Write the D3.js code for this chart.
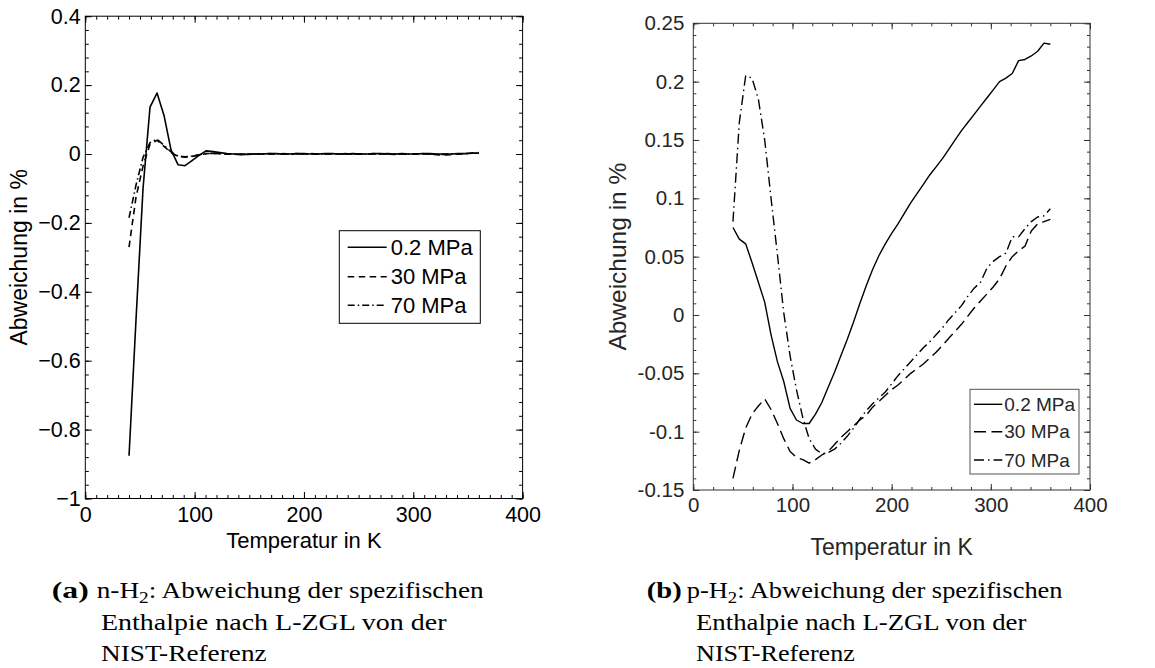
<!DOCTYPE html>
<html>
<head>
<meta charset="utf-8">
<script src="https://cdn.jsdelivr.net/npm/d3@7"></script>
<style>
  html, body { margin: 0; padding: 0; background: #fff; }
  svg { display: block; }
</style>
</head>
<body>
<svg id="fig" width="1155" height="668"></svg>
<script>
// Temperature grid of the comparison, in K
const temperatures = [
  40, 46.4, 52.8, 59.2, 65.6, 72, 78.4, 84.8, 91.2, 97.6,
  104, 110.4, 116.8, 123.2, 129.6, 136, 142.4, 148.8, 155.2, 161.6,
  168, 174.4, 180.8, 187.2, 193.6, 200, 206.4, 212.8, 219.2, 225.6,
  232, 238.4, 244.8, 251.2, 257.6, 264, 270.4, 276.8, 283.2, 289.6,
  296, 302.4, 308.8, 315.2, 321.6, 328, 334.4, 340.8, 347.2, 353.6, 360
];

const seriesNames = ["0.2 MPa", "30 MPa", "70 MPa"];

// n-H2: deviation of the specific enthalpy (L-ZGL vs. NIST), in %
const nH2_p02 = [
  -0.876, -0.480, -0.100, 0.136, 0.177, 0.112, 0.012, -0.031, -0.034, -0.019,
  -0.004, 0.009, 0.007, 0.004, 0.001, 0.000, -0.001, -0.001, 0.000, 0.000,
  0.001, 0.001, 0.000, 0.000, 0.001, 0.001, 0.000, 0.000, 0.001, 0.001,
  0.000, 0.000, 0.001, 0.000, 0.000, 0.001, 0.001, 0.000, 0.000, 0.001,
  0.000, 0.000, 0.001, 0.001, 0.000, 0.000, 0.000, 0.001, 0.001, 0.002, 0.002
];
const nH2_p30 = [
  -0.270, -0.125, -0.035, 0.028, 0.040, 0.022, 0.004, -0.007, -0.009, -0.007,
  -0.003, 0.001, 0.002, 0.001, 0.000, -0.001, -0.001, 0.000, 0.000, 0.000,
  0.001, 0.000, 0.000, 0.000, 0.001, 0.000, 0.000, 0.000, 0.000, 0.001,
  0.000, 0.000, 0.000, 0.000, 0.000, 0.001, 0.000, 0.000, -0.001, 0.000,
  0.000, 0.000, 0.000, -0.001, -0.002, -0.003, -0.002, 0.000, 0.001, 0.003, 0.004
];
const nH2_p70 = [
  -0.185, -0.090, -0.010, 0.033, 0.043, 0.025, 0.006, -0.006, -0.008, -0.006,
  -0.002, 0.001, 0.002, 0.001, 0.000, 0.000, -0.001, 0.000, 0.000, 0.001,
  0.000, 0.000, 0.001, 0.000, 0.000, 0.000, 0.001, 0.000, 0.000, 0.000,
  0.000, 0.001, 0.000, 0.000, 0.000, 0.000, 0.000, 0.001, 0.000, 0.000,
  0.000, 0.000, 0.001, 0.000, -0.001, -0.001, 0.000, 0.000, 0.001, 0.002, 0.003
];

// p-H2: deviation of the specific enthalpy (L-ZGL vs. NIST), in %
const pH2_p02 = [
  0.075, 0.065, 0.061, 0.045, 0.028, 0.011, -0.017, -0.040, -0.057, -0.080,
  -0.090, -0.093, -0.093, -0.085, -0.075, -0.062, -0.049, -0.035, -0.021, -0.006,
  0.010, 0.025, 0.039, 0.051, 0.061, 0.070, 0.078, 0.087, 0.096, 0.104,
  0.112, 0.120, 0.127, 0.134, 0.142, 0.150, 0.158, 0.165, 0.172, 0.179,
  0.186, 0.193, 0.200, 0.203, 0.207, 0.218, 0.219, 0.222, 0.226, 0.233, 0.232
];
const pH2_p30 = [
  -0.140, -0.116, -0.097, -0.085, -0.078, -0.072, -0.081, -0.093, -0.106, -0.117,
  -0.122, -0.124, -0.127, -0.124, -0.120, -0.117, -0.111, -0.105, -0.100, -0.095,
  -0.090, -0.086, -0.079, -0.074, -0.069, -0.064, -0.060, -0.055, -0.050, -0.046,
  -0.042, -0.037, -0.032, -0.026, -0.020, -0.014, -0.008, -0.001, 0.006, 0.012,
  0.018, 0.024, 0.031, 0.042, 0.050, 0.055, 0.059, 0.072, 0.078, 0.080, 0.082
];
const pH2_p70 = [
  0.080, 0.165, 0.205, 0.203, 0.185, 0.150, 0.100, 0.052, 0.002, -0.035,
  -0.064, -0.088, -0.106, -0.115, -0.119, -0.118, -0.115, -0.110, -0.104, -0.097,
  -0.089, -0.082, -0.076, -0.071, -0.066, -0.059, -0.052, -0.046, -0.040, -0.034,
  -0.028, -0.023, -0.017, -0.011, -0.004, 0.002, 0.008, 0.016, 0.023, 0.028,
  0.040, 0.046, 0.050, 0.053, 0.067, 0.067, 0.074, 0.080, 0.084, 0.085, 0.091
];

// Axis ticks and their labels
const xTicks = [0, 100, 200, 300, 400];
const nYTicks = [0.4, 0.2, 0, -0.2, -0.4, -0.6, -0.8, -1];
const nYTickLabels = ["0.4", "0.2", "0", "\u22120.2", "\u22120.4", "\u22120.6", "\u22120.8", "\u22121"];
const pYTicks = [0.25, 0.2, 0.15, 0.1, 0.05, 0, -0.05, -0.1, -0.15];
const pYTickLabels = ["0.25", "0.2", "0.15", "0.1", "0.05", "0", "-0.05", "-0.1", "-0.15"];

const xLabel = "Temperatur in K";
const yLabel = "Abweichung in %";

const SANS = "'Liberation Sans', Arial, Helvetica, sans-serif";
const SERIF = "'Liberation Serif', 'Times New Roman', serif";

const svg = d3.select("#fig");

const axisGen = { bottom: d3.axisBottom, top: d3.axisTop, left: d3.axisLeft, right: d3.axisRight };

function drawPanel(o) {
  const g = svg.append("g");
  const x = d3.scaleLinear().domain([0, 400]).range([o.left, o.right]);
  const y = d3.scaleLinear().domain(o.yDomain).range([o.bottom, o.top]);

  // tick marks on all four sides, pointing inward; labels bottom and left
  const sides = [
    ["bottom", x, o.bottom, o.xMinor, xTicks, true, d => String(d), o.xPad],
    ["top", x, o.top, o.xMinor, xTicks, false],
    ["left", y, o.left, o.yMinor, o.yTicks, true, (d, i) => o.yTickLabels[i], o.yPad],
    ["right", y, o.right, o.yMinor, o.yTicks, false]
  ];
  sides.forEach(([side, sc, pos, minor, major, labels, fmt, pad]) => {
    const tr = (side === "bottom" || side === "top") ? `translate(0,${pos})` : `translate(${pos},0)`;
    const gm = g.append("g").attr("transform", tr)
      .call(axisGen[side](sc).tickValues(minor).tickSize(-o.minorLen).tickFormat(""));
    gm.select(".domain").remove();
    gm.selectAll(".tick line").attr("stroke", o.axisColor).attr("stroke-width", 1);

    const gM = g.append("g").attr("transform", tr)
      .call(axisGen[side](sc).tickValues(major).tickSize(-o.majorLen)
        .tickPadding(labels ? pad : 0)
        .tickFormat(labels ? fmt : ""));
    gM.select(".domain").remove();
    gM.selectAll(".tick line").attr("stroke", o.axisColor).attr("stroke-width", 1);
    gM.attr("font-family", SANS).attr("font-size", o.tickFont);
    gM.selectAll(".tick text").attr("fill", o.textColor);
  });

  // axes box
  g.append("rect")
    .attr("x", o.left).attr("y", o.top)
    .attr("width", o.right - o.left).attr("height", o.bottom - o.top)
    .attr("fill", "none").attr("stroke", o.axisColor).attr("stroke-width", 1);

  // data lines
  const line = d3.line().x((d, i) => x(temperatures[i])).y(d => y(d));
  const clipId = "clip" + o.id;
  svg.append("clipPath").attr("id", clipId).append("rect")
    .attr("x", o.left).attr("y", o.top)
    .attr("width", o.right - o.left).attr("height", o.bottom - o.top);
  const gl = g.append("g").attr("clip-path", `url(#${clipId})`);
  o.series.forEach((vals, k) => {
    gl.append("path")
      .datum(vals)
      .attr("d", line)
      .attr("fill", "none")
      .attr("stroke", "#000")
      .attr("stroke-width", o.lineWidth)
      .attr("stroke-linejoin", "round")
      .attr("stroke-dasharray", o.dashes[k]);
  });

  // axis titles
  g.append("text")
    .attr("x", (o.left + o.right) / 2).attr("y", o.xLabelY)
    .attr("text-anchor", "middle")
    .attr("font-family", SANS).attr("font-size", o.xLabelFont)
    .attr("fill", o.textColor)
    .text(xLabel);
  g.append("text")
    .attr("transform", `translate(${o.yLabelX},${(o.top + o.bottom) / 2}) rotate(-90)`)
    .attr("text-anchor", "middle")
    .attr("font-family", SANS).attr("font-size", o.yLabelFont)
    .attr("fill", o.textColor)
    .text(yLabel);

  // legend
  const L = o.legend;
  const gLeg = g.append("g");
  gLeg.append("rect")
    .attr("x", L.x0).attr("y", L.y0)
    .attr("width", L.x1 - L.x0).attr("height", L.y1 - L.y0)
    .attr("fill", "#fff").attr("stroke", L.stroke).attr("stroke-width", 1);
  seriesNames.forEach((name, k) => {
    const yy = L.rows[k];
    gLeg.append("line")
      .attr("x1", L.lineX0).attr("x2", L.lineX1)
      .attr("y1", yy).attr("y2", yy)
      .attr("stroke", "#000").attr("stroke-width", o.lineWidth)
      .attr("stroke-dasharray", o.dashes[k]);
    gLeg.append("text")
      .attr("x", L.textX).attr("y", yy)
      .attr("dy", "0.35em")
      .attr("font-family", SANS).attr("font-size", L.font)
      .attr("fill", o.textColor)
      .text(name);
  });
}

drawPanel({
  id: "n",
  left: 85.3, right: 522.6, top: 16.2, bottom: 498.5,
  yDomain: [-1, 0.4],
  yTicks: nYTicks, yTickLabels: nYTickLabels,
  xMinor: d3.range(0, 401, 10),
  yMinor: d3.range(-25, 11).map(k => k * 0.04),
  majorLen: 6.5, minorLen: 3.5,
  xPad: 8.2, yPad: 4.6,
  tickFont: 21.5, xLabelFont: 22, yLabelFont: 23,
  xLabelY: 547.5, yLabelX: 27,
  axisColor: "#000", textColor: "#000",
  lineWidth: 1.6,
  dashes: [null, "6.5,4.5", "7,3,1.5,3"],
  series: [nH2_p02, nH2_p30, nH2_p70],
  legend: {
    x0: 339.3, x1: 480.3, y0: 230.7, y1: 323.3,
    lineX0: 347.7, lineX1: 386.7, textX: 390.7,
    rows: [247.3, 276.7, 305.3], font: 22, stroke: "#000"
  }
});

drawPanel({
  id: "p",
  left: 693.3, right: 1090, top: 23.3, bottom: 490,
  yDomain: [-0.15, 0.25],
  yTicks: pYTicks, yTickLabels: pYTickLabels,
  xMinor: d3.range(0, 401, 20),
  yMinor: d3.range(-15, 26).map(k => k * 0.01),
  majorLen: 6, minorLen: 3,
  xPad: 7.1, yPad: 9,
  tickFont: 20.5, xLabelFont: 23, yLabelFont: 24.5,
  xLabelY: 555, yLabelX: 626,
  axisColor: "#333", textColor: "#262626",
  lineWidth: 1.4,
  dashes: [null, "12,5.5", "10,4,1.5,4"],
  series: [pH2_p02, pH2_p30, pH2_p70],
  legend: {
    x0: 970, x1: 1079, y0: 389.3, y1: 474,
    lineX0: 974, lineX1: 1002.3, textX: 1004.3,
    rows: [404.3, 431.7, 460], font: 19, stroke: "#555"
  }
});

// sub-figure captions (serif), each piece stretched to its set width
function fitText(t, x0, yBase, width) {
  const w = t.node().getComputedTextLength();
  t.attr("transform", `translate(${x0},${yBase}) scale(${width / w},1)`);
}
function captionText(bold) {
  return svg.append("text")
    .attr("font-family", SERIF).attr("font-size", 24)
    .attr("font-weight", bold ? "bold" : "normal")
    .attr("fill", "#000");
}

const captions = [
  { tag: "(a)", chem: "n", tagX: 51.7, tagW: 37, l1: [96.7, 387.3], l2: [101, 345.7], l3: [101, 165.7] },
  { tag: "(b)", chem: "p", tagX: 646.7, tagW: 35, l1: [686.7, 376], l2: [696, 330.7], l3: [696, 159] }
];
const captionRest = [": Abweichung der spezifischen", "Enthalpie nach L-ZGL von der", "NIST-Referenz"];
const captionBase = [597.7, 630, 661];

captions.forEach(c => {
  fitText(captionText(true).text(c.tag), c.tagX, captionBase[0], c.tagW);

  const t1 = captionText(false);
  t1.append("tspan").text(c.chem + "-H");
  t1.append("tspan").attr("font-size", 17).attr("dy", 5).text("2");
  t1.append("tspan").attr("dy", -5).text(captionRest[0]);
  fitText(t1, c.l1[0], captionBase[0], c.l1[1]);

  fitText(captionText(false).text(captionRest[1]), c.l2[0], captionBase[1], c.l2[1]);
  fitText(captionText(false).text(captionRest[2]), c.l3[0], captionBase[2], c.l3[1]);
});
</script>
</body>
</html>
